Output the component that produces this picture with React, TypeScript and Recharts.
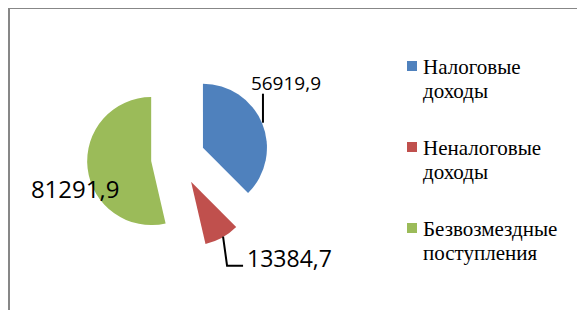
import React from 'react';
import { PieChart, Pie, Cell, Sector, Legend } from 'recharts';

const categories = ['Налоговые доходы', 'Неналоговые доходы', 'Безвозмездные поступления'];
const values = [56919.9, 13384.7, 81291.9];
const valueLabels = ['56919,9', '13384,7', '81291,9'];

const COLORS = ['#4F81BD', '#C0504D', '#9BBB59'];
const EXPLODE = 27;
const RAD = Math.PI / 180;

const data = categories.map((name, i) => ({ name, value: values[i], label: valueLabels[i] }));

// where each value label and its leader line sit, relative to the exploded slice's apex
const LABEL_LAYOUT = [
  { dx: 83, dy: -58, anchor: 'middle', size: 19, leader: [[60, -54], [60, -25]] },
  { dx: 56, dy: 85, anchor: 'start', size: 23, leader: [[32, 55], [36, 84], [52, 84]] },
  { dx: -76, dy: 37, anchor: 'middle', size: 24, leader: null },
];

const explodedCenter = (cx: number, cy: number, midAngle: number) => ({
  x: cx + EXPLODE * Math.cos(-midAngle * RAD),
  y: cy + EXPLODE * Math.sin(-midAngle * RAD),
});

const ExplodedSector = (props: any) => {
  const c = explodedCenter(props.cx, props.cy, props.midAngle);
  return <Sector {...props} cx={c.x} cy={c.y} />;
};

const renderLabel = (props: any) => {
  const { cx, cy, midAngle, index } = props;
  const c = explodedCenter(cx, cy, midAngle);
  const l = LABEL_LAYOUT[index];
  return (
    <g>
      {l.leader && (
        <polyline
          points={l.leader.map(([x, y]) => `${c.x + x},${c.y + y}`).join(' ')}
          fill="none"
          stroke="#000"
          strokeWidth={2}
        />
      )}
      <text
        x={c.x + l.dx}
        y={c.y + l.dy}
        textAnchor={l.anchor}
        fontSize={l.size}
        fontFamily='"Open Sans", sans-serif'
        fill="#000"
      >
        {data[index].label}
      </text>
    </g>
  );
};

// legend keeps the series order (recharts sorts the payload by name otherwise)
const renderLegend = (props: any) => {
  const payload = props.payload || [];
  const items = categories.map((name, i) => {
    const p = payload.find((it: any) => it.value === name);
    return { name, color: (p && p.color) || COLORS[i] };
  });
  return (
    <div style={{ fontFamily: "'Liberation Serif', 'Times New Roman', serif", fontSize: 21, lineHeight: '24px', color: '#000' }}>
      {items.map((item, i) => (
        <div key={item.name} style={{ display: 'flex', alignItems: 'flex-start', marginBottom: i < items.length - 1 ? 33 : 0 }}>
          <span style={{ width: 10, height: 10, background: item.color, marginTop: 6, marginRight: 6, flexShrink: 0 }} />
          <span style={{ width: 152, fontFamily: "'Liberation Serif', serif" }}>{item.name}</span>
        </div>
      ))}
    </div>
  );
};

const App = () => {
  return (
    <div style={{ margin: -8, width: 585, height: 318, position: 'relative', overflow: 'hidden', background: '#fff' }}>
      <div
        style={{
          position: 'absolute',
          left: 8,
          top: 7,
          width: 700,
          height: 400,
          borderTop: '2px solid #878787',
          borderLeft: '2px solid #878787',
        }}
      />
      <PieChart width={585} height={318} margin={{ top: 0, right: 0, bottom: 0, left: 0 }}>
        <Pie
          data={data}
          dataKey="value"
          nameKey="name"
          cx={178}
          cy={158}
          outerRadius={64}
          startAngle={90}
          endAngle={-270}
          stroke="none"
          shape={ExplodedSector}
          label={renderLabel}
          labelLine={false}
          isAnimationActive={false}
        >
          {data.map((d, i) => (
            <Cell key={d.name} fill={COLORS[i]} />
          ))}
        </Pie>
        <Legend
          content={renderLegend}
          layout="vertical"
          wrapperStyle={{ position: 'absolute', left: 407, top: 55, width: 175 }}
        />
      </PieChart>
    </div>
  );
};

export default App;
